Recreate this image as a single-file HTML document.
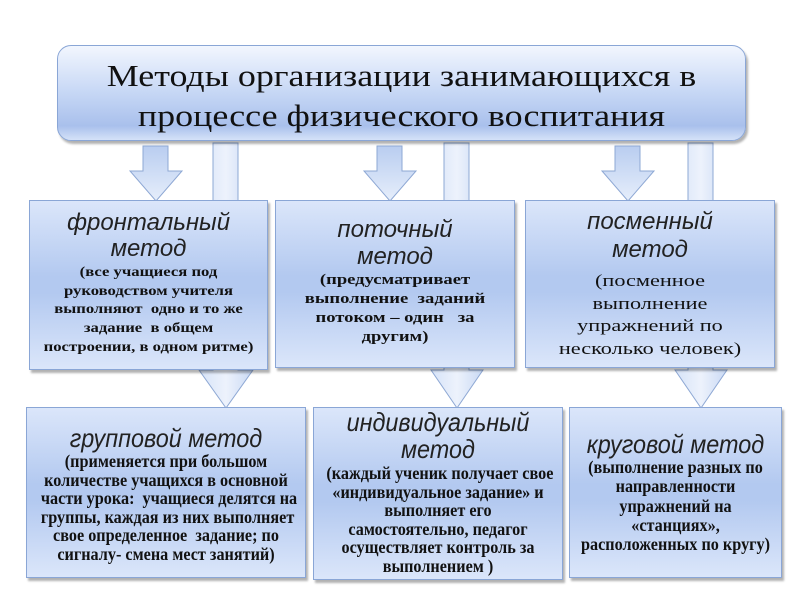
<!DOCTYPE html>
<html><head><meta charset="utf-8"><style>
body{margin:0;width:800px;height:600px;background:#fff;position:relative;overflow:hidden;font-family:"Liberation Serif",serif}
.box{position:absolute;border:1px solid #8aa6d6;background:linear-gradient(180deg,#dbe6fa 0%,#b3c9f0 45%,#b3c9f0 55%,#dbe6fa 100%);box-shadow:2px 3px 2px rgba(0,0,0,0.3);text-align:center;color:#111;overflow:visible}
.t{font-family:"Liberation Sans",sans-serif;font-style:italic;font-size:24px;line-height:26px;color:#222}
.b{font-weight:bold;font-size:14px;line-height:18.7px}
.cond{transform:scaleX(0.9);transform-origin:50% 0;white-space:nowrap}
.wide{white-space:nowrap;transform-origin:50% 0}
</style></head><body>
<svg width="800" height="600" style="position:absolute;left:0;top:0">
<defs><linearGradient id="g" x1="0" y1="0" x2="0" y2="1"><stop offset="0" stop-color="#b9cdf0"/><stop offset="1" stop-color="#e6eefb"/></linearGradient>
<linearGradient id="g2" x1="0" y1="0" x2="1" y2="0"><stop offset="0" stop-color="#d6e3f8"/><stop offset="0.5" stop-color="#edf2fc"/><stop offset="1" stop-color="#c9d9f4"/></linearGradient></defs>
<g fill="url(#g)" stroke="#8ea8d4" stroke-width="1">
<path d="M143 146 h25 v25 h14 l-26 30 l-26 -30 h13z"/>
<path d="M213 143 h25 v227 h15 l-27 38 l-27 -38 h14z" fill="url(#g2)"/>
<path d="M377 146 h25 v25 h14 l-26 30 l-26 -30 h13z"/>
<path d="M444 143 h25 v227 h14 l-26 38 l-26 -38 h13z" fill="url(#g2)"/>
<path d="M615 146 h25 v25 h14 l-26 30 l-26 -30 h13z"/>
<path d="M688 143 h25 v227 h14 l-26 38 l-26 -38 h13z" fill="url(#g2)"/>
</g></svg>
<div class="box" style="left:57px;top:45px;width:689px;height:96px;border-radius:14px;background:linear-gradient(180deg,#f2f6fe 0%,#c6d7f5 50%,#a9c0ec 85%,#d5e2f8 100%);box-sizing:border-box;padding-top:10px">
<div class="wide" style="font-size:31px;line-height:40px;transform:scaleX(1.16)">Методы организации занимающихся в<br>процессе физического воспитания</div></div>

<div class="box" style="left:29px;top:200px;width:239px;height:170px;box-sizing:border-box;padding-top:9px">
<div class="t">фронтальный<br>метод</div>
<div class="b wide" style="margin-top:2px;transform:scaleX(1.19)">(все учащиеся под<br>руководством учителя<br>выполняют &nbsp;одно и то же<br>задание &nbsp;в общем<br>построении, в одном ритме)</div></div>

<div class="box" style="left:275px;top:200px;width:240px;height:168px;box-sizing:border-box;padding-top:15px">
<div class="t" style="line-height:27px">поточный<br>метод</div>
<div class="b wide" style="font-size:15px;line-height:19px;margin-top:1px;transform:scaleX(1.24)">(предусматривает<br>выполнение &nbsp;заданий<br>потоком – один &nbsp;&nbsp;за<br>другим)</div></div>

<div class="box" style="left:525px;top:200px;width:250px;height:168px;box-sizing:border-box;padding-top:7px">
<div class="t" style="line-height:28px">посменный<br>метод</div>
<div class="wide" style="font-size:17px;line-height:22.5px;margin-top:6px;transform:scaleX(1.31)">(посменное<br>выполнение<br>упражнений по<br>несколько человек)</div></div>

<div class="box" style="left:26px;top:407px;width:280px;height:171px;box-sizing:border-box;padding-top:16px">
<div class="cond"><div class="t" style="font-size:26px;line-height:28px">групповой метод</div>
<div style="font-size:18px;line-height:18.6px;font-weight:bold">(применяется при большом<br>количестве учащихся в основной<br>части урока: &nbsp;учащиеся делятся на<br>группы, каждая из них выполняет<br>свое определенное &nbsp;задание; по<br>сигналу- смена мест занятий)</div></div></div>

<div class="box" style="left:313px;top:407px;width:250px;height:173px;box-sizing:border-box;padding-top:1px">
<div class="cond"><div class="t" style="font-size:26px;line-height:27px">индивидуальный<br>метод</div>
<div style="font-size:18px;line-height:18.6px;font-weight:bold;margin-top:1px">(каждый ученик получает свое<br>«индивидуальное задание» и<br>выполняет его<br>самостоятельно, педагог<br>осуществляет контроль за<br>выполнением )</div></div></div>

<div class="box" style="left:569px;top:407px;width:213px;height:171px;box-sizing:border-box;padding-top:22px">
<div class="cond"><div class="t" style="font-size:26px;line-height:28px">круговой метод</div>
<div style="font-size:18px;line-height:19.3px;font-weight:bold">(выполнение разных по<br>направленности<br>упражнений на<br>«станциях»,<br>расположенных по кругу)</div></div></div>
</body></html>
